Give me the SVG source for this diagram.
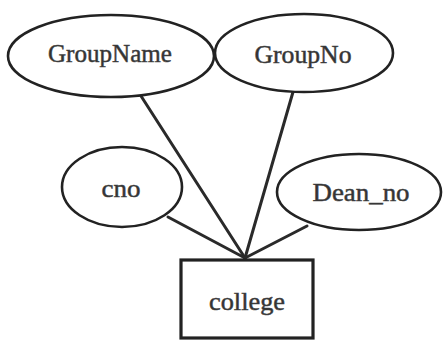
<svg xmlns="http://www.w3.org/2000/svg" width="443" height="341" viewBox="0 0 443 341">
  <style>
    .attr { fill: #ffffff; stroke: #222222; stroke-width: 2.6; }
    .entity { fill: #ffffff; stroke: #222222; stroke-width: 3.2; }
    .edge { stroke: #2a2a2a; stroke-width: 3; fill: none; stroke-linecap: round; }
    .lbl { font-family: "Liberation Serif", "Times New Roman", serif; font-size: 25px; fill: #333333; stroke: #444444; stroke-width: 0.5; text-anchor: middle; }
  </style>
  <rect width="443" height="341" fill="#ffffff"/>

  <g id="connectors">
    <line class="edge" x1="141" y1="96" x2="245" y2="258"/>
    <line class="edge" x1="293" y1="92" x2="245" y2="258"/>
    <line class="edge" x1="168" y1="217" x2="245" y2="258"/>
    <line class="edge" x1="307" y1="226" x2="245" y2="258"/>
  </g>

  <g id="GroupName">
    <ellipse class="attr" cx="111" cy="56" rx="103" ry="41"/>
    <text class="lbl" x="110" y="62" textLength="124" lengthAdjust="spacingAndGlyphs">GroupName</text>
  </g>

  <g id="GroupNo">
    <ellipse class="attr" cx="304" cy="53" rx="89" ry="39"/>
    <text class="lbl" x="303" y="63" textLength="97" lengthAdjust="spacingAndGlyphs">GroupNo</text>
  </g>

  <g id="cno">
    <ellipse class="attr" cx="122" cy="187" rx="60" ry="40"/>
    <text class="lbl" x="121" y="197" textLength="39" lengthAdjust="spacingAndGlyphs">cno</text>
  </g>

  <g id="Dean_no">
    <ellipse class="attr" cx="359" cy="192" rx="82" ry="38"/>
    <text class="lbl" x="361" y="201" textLength="97" lengthAdjust="spacingAndGlyphs">Dean_no</text>
  </g>

  <g id="college">
    <rect class="entity" x="181" y="260" width="132" height="78"/>
    <text class="lbl" x="247" y="310" textLength="76" lengthAdjust="spacingAndGlyphs">college</text>
  </g>
</svg>
